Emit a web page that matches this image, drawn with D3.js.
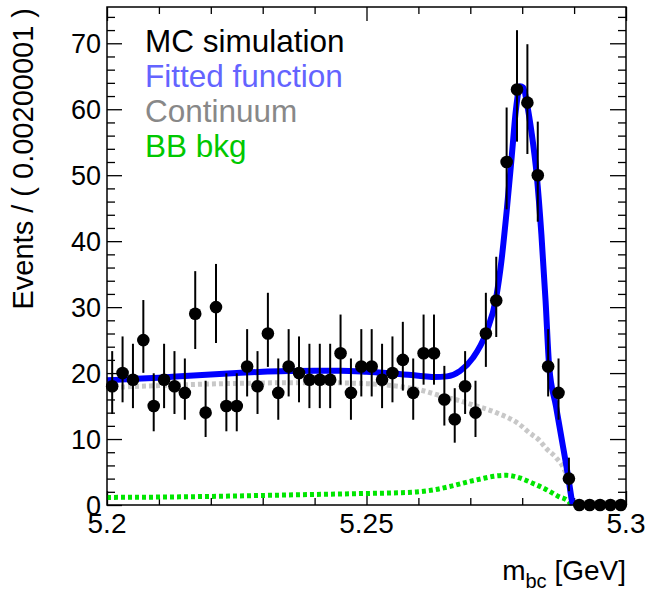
<!DOCTYPE html>
<html>
<head>
<meta charset="utf-8">
<script src="https://cdn.jsdelivr.net/npm/d3@7"></script>
<style>
  html, body { margin: 0; padding: 0; background: #fff; }
  svg { display: block; font-family: "Liberation Sans", Arial, Helvetica, sans-serif; }
</style>
</head>
<body>
<svg id="chart" width="649" height="594"></svg>
<script>
// ---- binning and data -------------------------------------------------
const xMin = 5.2, xMax = 5.3, binWidth = 0.002;
const counts = [18, 20, 19, 25, 15, 19, 18, 17, 29, 14,
                30, 15, 15, 21, 18, 26, 17, 21, 20, 19,
                19, 19, 23, 17, 21, 21, 19, 20, 22, 17,
                23, 23, 16, 13, 18, 14, 26, 31, 52, 63,
                61, 50, 21, 17, 4, 0, 0, 0, 0, 0];

// ---- fitted components (m_bc [GeV], events per bin) -------------------
const fitM   = [5.2000, 5.2050, 5.2100, 5.2150, 5.2200, 5.2250, 5.2300, 5.2350, 5.2400, 5.2450,
                5.2500, 5.2550, 5.2600, 5.2630, 5.2655, 5.2680, 5.2705, 5.2730, 5.2750, 5.2760,
                5.2770, 5.2780, 5.2788, 5.2796, 5.2802, 5.2810, 5.2818, 5.2828, 5.2837, 5.2845,
                5.2852, 5.2865, 5.2877, 5.2890, 5.2896, 5.2898];
const fitVal = [18.9, 19.1, 19.3, 19.55, 19.8, 20.0, 20.2, 20.3, 20.35, 20.35,
                20.2, 19.95, 19.6, 19.4, 19.5, 20.3, 22.3, 26.0, 31.5, 37.0,
                44.5, 53.0, 60.0, 63.5, 63.3, 60.5, 56.5, 50.0, 41.0, 31.0,
                21.0, 15.0, 9.6, 3.6, 0.6, 0.0];

const contM   = [5.200, 5.210, 5.220, 5.230, 5.240, 5.250, 5.255, 5.260, 5.265, 5.268,
                 5.270, 5.275, 5.2795, 5.2813, 5.2833, 5.2846, 5.2865, 5.2881, 5.2890, 5.2895];
const contVal = [17.8, 18.1, 18.35, 18.5, 18.55, 18.4, 18.1, 17.5, 16.4, 15.8,
                 15.3, 14.0, 12.2, 11.0, 9.8, 8.6, 7.2, 5.4, 3.5, 0.0];

const bbM   = [5.200, 5.210, 5.220, 5.230, 5.240, 5.250, 5.256, 5.260, 5.263, 5.266,
               5.269, 5.272, 5.2745, 5.277, 5.2795, 5.282, 5.2845, 5.287, 5.289, 5.2895];
const bbVal = [1.15, 1.2, 1.3, 1.45, 1.6, 1.75, 1.85, 2.0, 2.3, 2.8,
               3.4, 3.95, 4.35, 4.5, 4.1, 3.3, 2.4, 1.3, 0.5, 0.0];

// ---- axes -------------------------------------------------------------
const xMajorTicks = [5.2, 5.25, 5.3];
const xTickLabels = ["5.2", "5.25", "5.3"];
const xMinorTicks = [5.21, 5.22, 5.23, 5.24, 5.26, 5.27, 5.28, 5.29];
const yMajorTicks = [0, 10, 20, 30, 40, 50, 60, 70];
const yMinorTicks = [2, 4, 6, 8, 12, 14, 16, 18, 22, 24, 26, 28, 32, 34, 36, 38,
                     42, 44, 46, 48, 52, 54, 56, 58, 62, 64, 66, 68, 72, 74];
const yMax = 75.5;

const legendLabels = ["MC simulation", "Fitted function", "Continuum", "BB bkg"];
const legendColors = ["#000000", "#6464ff", "#888888", "#00c800"];

// ---- layout -----------------------------------------------------------
const frame = { left: 107, right: 626, top: 7, bottom: 505 };
const svg = d3.select("#chart");

const x = d3.scaleLinear().domain([xMin, xMax]).range([frame.left, frame.right]);
const y = d3.scaleLinear().domain([0, yMax]).range([frame.bottom, frame.top]);

// Poisson 68% intervals for the data error bars
const poissonLow  = n => { const a = 1 - 1 / (9 * n) - 1 / (3 * Math.sqrt(n)); return n * a * a * a; };
const poissonHigh = n => n + Math.sqrt(n + 0.75) + 1;

const points = counts.map((n, i) => ({
  m: xMin + (i + 0.5) * binWidth,
  n: n,
  lo: n > 0 ? poissonLow(n) : 0,
  hi: n > 0 ? poissonHigh(n) : 0
}));

const line = d3.line()
  .x(d => x(d[0]))
  .y(d => y(d[1]))
  .curve(d3.curveMonotoneX);

const zip = (a, b) => a.map((v, i) => [v, b[i]]);

// ---- axes: frame plus major/minor ticks on all four sides ------------
const gAxes = svg.append("g").attr("class", "axes");

function styleAxis(g) {
  g.select(".domain").remove();
  g.selectAll(".tick line").attr("stroke", "#000").attr("stroke-width", 1.3);
}

// left
gAxes.append("g")
  .attr("transform", `translate(${frame.left},0)`)
  .call(d3.axisRight(y).tickValues(yMajorTicks).tickSize(15).tickFormat(""))
  .call(styleAxis);
gAxes.append("g")
  .attr("transform", `translate(${frame.left},0)`)
  .call(d3.axisRight(y).tickValues(yMinorTicks).tickSize(8).tickFormat(""))
  .call(styleAxis);
// right
gAxes.append("g")
  .attr("transform", `translate(${frame.right},0)`)
  .call(d3.axisLeft(y).tickValues(yMajorTicks).tickSize(16).tickFormat(""))
  .call(styleAxis);
gAxes.append("g")
  .attr("transform", `translate(${frame.right},0)`)
  .call(d3.axisLeft(y).tickValues(yMinorTicks).tickSize(8).tickFormat(""))
  .call(styleAxis);
// bottom
gAxes.append("g")
  .attr("transform", `translate(0,${frame.bottom})`)
  .call(d3.axisTop(x).tickValues(xMajorTicks).tickSize(14).tickFormat(""))
  .call(styleAxis);
gAxes.append("g")
  .attr("transform", `translate(0,${frame.bottom})`)
  .call(d3.axisTop(x).tickValues(xMinorTicks).tickSize(7).tickFormat(""))
  .call(styleAxis);
// top
gAxes.append("g")
  .attr("transform", `translate(0,${frame.top})`)
  .call(d3.axisBottom(x).tickValues(xMajorTicks).tickSize(14).tickFormat(""))
  .call(styleAxis);
gAxes.append("g")
  .attr("transform", `translate(0,${frame.top})`)
  .call(d3.axisBottom(x).tickValues(xMinorTicks).tickSize(7).tickFormat(""))
  .call(styleAxis);

// tick labels
gAxes.selectAll("text.ylab")
  .data(yMajorTicks)
  .join("text")
  .attr("class", "ylab")
  .attr("x", frame.left - 6)
  .attr("y", d => y(d))
  .attr("dy", "0.36em")
  .attr("text-anchor", "end")
  .attr("font-size", 27)
  .attr("fill", "#000")
  .text(d => d);

gAxes.selectAll("text.xlab")
  .data(xMajorTicks)
  .join("text")
  .attr("class", "xlab")
  .attr("x", d => x(d))
  .attr("y", 533)
  .attr("text-anchor", "middle")
  .attr("font-size", 28)
  .attr("fill", "#000")
  .text((d, i) => xTickLabels[i]);

// axis titles
const xTitle = svg.append("text")
  .attr("x", frame.right)
  .attr("y", 580)
  .attr("text-anchor", "end")
  .attr("font-size", 28)
  .attr("fill", "#000");
xTitle.append("tspan").text("m");
xTitle.append("tspan").attr("font-size", 20).attr("dy", 8).text("bc");
xTitle.append("tspan").attr("dy", -8).text(" [GeV]");

svg.append("text")
  .attr("transform", "translate(33,8) rotate(-90)")
  .attr("text-anchor", "end")
  .attr("font-size", 29)
  .attr("fill", "#000")
  .text("Events / ( 0.00200001 )");

// ---- curves -------------------------------------------------------------
const plot = svg.append("g").attr("class", "plot");

plot.append("path")
  .attr("d", line(zip(contM, contVal)))
  .attr("fill", "none")
  .attr("stroke", "#c8c8c8")
  .attr("stroke-width", 5)
  .attr("stroke-dasharray", "4,3");

plot.append("path")
  .attr("d", line(zip(bbM, bbVal)))
  .attr("fill", "none")
  .attr("stroke", "#00e600")
  .attr("stroke-width", 5)
  .attr("stroke-dasharray", "4,3");

plot.append("path")
  .attr("d", line(zip(fitM, fitVal)))
  .attr("fill", "none")
  .attr("stroke", "#0000ff")
  .attr("stroke-width", 6)
  .attr("stroke-linejoin", "round");

// ---- data points with error bars ---------------------------------------
plot.selectAll("line.err")
  .data(points.filter(p => p.n > 0))
  .join("line")
  .attr("class", "err")
  .attr("x1", d => x(d.m))
  .attr("x2", d => x(d.m))
  .attr("y1", d => y(d.lo))
  .attr("y2", d => y(d.hi))
  .attr("stroke", "#000")
  .attr("stroke-width", 2);

plot.selectAll("circle.pt")
  .data(points)
  .join("circle")
  .attr("class", "pt")
  .attr("cx", d => x(d.m))
  .attr("cy", d => y(d.n))
  .attr("r", 6.3)
  .attr("fill", "#000");

// ---- frame --------------------------------------------------------------
svg.append("rect")
  .attr("x", frame.left)
  .attr("y", frame.top)
  .attr("width", frame.right - frame.left)
  .attr("height", frame.bottom - frame.top)
  .attr("fill", "none")
  .attr("stroke", "#000")
  .attr("stroke-width", 1.5);

// ---- legend ---------------------------------------------------------------
svg.append("g").attr("class", "legend")
  .selectAll("text")
  .data(legendLabels)
  .join("text")
  .attr("x", 145)
  .attr("y", (d, i) => 52 + i * 35)
  .attr("font-size", 31.5)
  .attr("fill", (d, i) => legendColors[i])
  .text(d => d);
</script>
</body>
</html>
